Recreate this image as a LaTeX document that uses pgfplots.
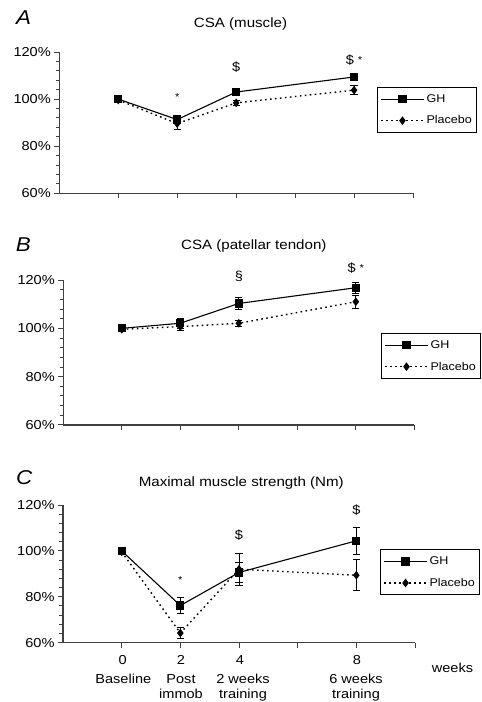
\documentclass[border=0pt]{standalone}
\usepackage{fontspec}
\setmainfont{Liberation Sans}[FakeStretch=1.12]
\usepackage{pgfplots}
\pgfplotsset{compat=1.18}
\newcommand{\tfont}{\fontsize{13}{15}\selectfont}
\newcommand{\ttl}{\fontsize{13.5}{16}\selectfont}
\pgfplotsset{
 panel/.style={
  scale only axis, anchor=south west,
  xmin=-2, xmax=10, ymin=60, ymax=120,
  axis lines*=left, axis line style={line width=1.1pt, black!75},
  xtick={0,2,4,6,8,10}, xticklabels={},
  ytick={60,80,100,120}, minor y tick num=4,
  yticklabel={\pgfmathprintnumber{\tick}\%},
  tick align=outside, major tick length=5pt, minor tick length=3.5pt,
  every tick/.style={line width=1pt, black!75},
  /pgf/number format/assume math mode=true,
  ticklabel style={font=\tfont},
  clip=false,
  legend style={draw=black, line width=1pt, font=\fontsize{11.2}{13}\selectfont,
    anchor=north west, row sep=8pt, inner xsep=3pt, inner ysep=5pt, nodes={inner sep=2pt}},
  legend cell align=left,
  legend image code/.code={\draw[##1, mark repeat=2, mark phase=2] plot coordinates {(0cm,0cm) (0.75cm,0cm) (1.5cm,0cm)};},
 },
 gh/.style={black, line width=1.1pt, mark=square*, mark size=3.6pt, mark options={solid},
   error bars/.cd, y dir=both, y explicit, error bar style={line width=1pt, solid},
   error mark options={rotate=90, mark size=3.6pt, line width=1pt, solid}},
 pl/.style={black, line width=1.4pt, dash pattern=on 1.6pt off 3.4pt, mark=diamond*, mark size=3.7pt, mark options={solid, line width=0.8pt},
   error bars/.cd, y dir=both, y explicit, error bar style={line width=1pt, solid},
   error mark options={rotate=90, mark size=3.6pt, line width=1pt, solid}},
}
\begin{document}
\begin{tikzpicture}
\path[use as bounding box] (0,0) rectangle (482pt,702pt);
% ---------- Panel A ----------
\node[anchor=base, font=\fontsize{20}{24}\selectfont\itshape] at (23.7pt,677pt) {A};
\node[anchor=base, font=\ttl] at (240.5pt,674.7pt) {CSA (muscle)};
\begin{axis}[panel, at={(59.3pt,508.7pt)}, width=353.7pt, height=141.3pt,
  legend style={at={(0.898,0.752)}}]
\addplot+[gh] coordinates {(0,100) +- (0,0) (2,91.3) +- (0,1.2) (4,103.0) +- (0,0.8) (8,109.4) +- (0,1.3)};
\addlegendentry{GH}
\addplot+[pl] coordinates {(0,99.6) +- (0,0) (2,89.6) +- (0,2.4) (4,98.4) +- (0,1.0) (8,103.8) +- (0,1.8)};
\addlegendentry{Placebo}
\node[font=\fontsize{10}{12}\selectfont] at (axis cs:2,101) {*};
\node[font=\tfont] at (axis cs:4,113.6) {\$};
\node[font=\tfont] at (axis cs:8,116.7) {\$\ {\fontsize{10}{12}\selectfont\raisebox{1pt}{*}}};
\end{axis}
% ---------- Panel B ----------
\node[anchor=base, font=\fontsize{20}{24}\selectfont\itshape] at (23.3pt,450.3pt) {B};
\node[anchor=base, font=\ttl] at (253.8pt,452pt) {CSA (patellar tendon)};
\begin{axis}[panel, at={(63.3pt,277pt)}, width=351pt, height=145pt,
  legend style={at={(0.905,0.634)}}]
\addplot+[gh] coordinates {(0,100) +- (0,0) (2,102.1) +- (0,2.0) (4,110.3) +- (0,2.3) (8,116.8) +- (0,2.3)};
\addlegendentry{GH}
\addplot+[pl] coordinates {(0,99.6) +- (0,0) (2,100.7) +- (0,1.5) (4,102.1) +- (0,1.3) (8,111.0) +- (0,2.6)};
\addlegendentry{Placebo}
\node[font=\tfont] at (axis cs:4,121.4) {\S};
\node[font=\tfont] at (axis cs:8,125.1) {\$\ {\fontsize{10}{12}\selectfont\raisebox{1pt}{*}}};
\end{axis}
% ---------- Panel C ----------
\node[anchor=base, font=\fontsize{20}{24}\selectfont\itshape] at (24.2pt,217pt) {C};
\node[anchor=base, font=\ttl] at (241.3pt,215.3pt) {Maximal muscle strength (Nm)};
\begin{axis}[panel, at={(63pt,59.3pt)}, width=352pt, height=137.7pt,
  legend style={at={(0.9006,0.678)}}]
\addplot+[gh] coordinates {(0,100) +- (0,0) (2,76.2) +- (0,3.4) (4,90.6) +- (0,4.4) (8,104.4) +- (0,6.0)};
\addlegendentry{GH}
\addplot+[pl] coordinates {(0,99.6) +- (0,0) (2,64.2) +- (0,2.3) (4,92.0) +- (0,7.0) (8,89.4) +- (0,6.7)};
\addlegendentry{Placebo}
\node[font=\fontsize{10}{12}\selectfont] at (axis cs:2,87.3) {*};
\node[font=\tfont] at (axis cs:4,107) {\$};
\node[font=\tfont] at (axis cs:8,117.8) {\$};
\end{axis}
% x labels under C
\begin{scope}[every node/.style={anchor=base, font=\tfont, inner sep=0pt}]
\node at (122.7pt,37pt) {0};
\node at (181pt,37pt) {2};
\node at (240pt,37pt) {4};
\node at (357pt,37pt) {8};
\node at (452.5pt,29pt) {weeks};
\node at (123.3pt,18pt) {Baseline};
\node at (181pt,18pt) {Post};
\node at (181pt,3.2pt) {immob};
\node at (243pt,18pt) {2 weeks};
\node at (243pt,3.2pt) {training};
\node at (356pt,18pt) {6 weeks};
\node at (356pt,3.2pt) {training};
\end{scope}
\end{tikzpicture}
\end{document}
